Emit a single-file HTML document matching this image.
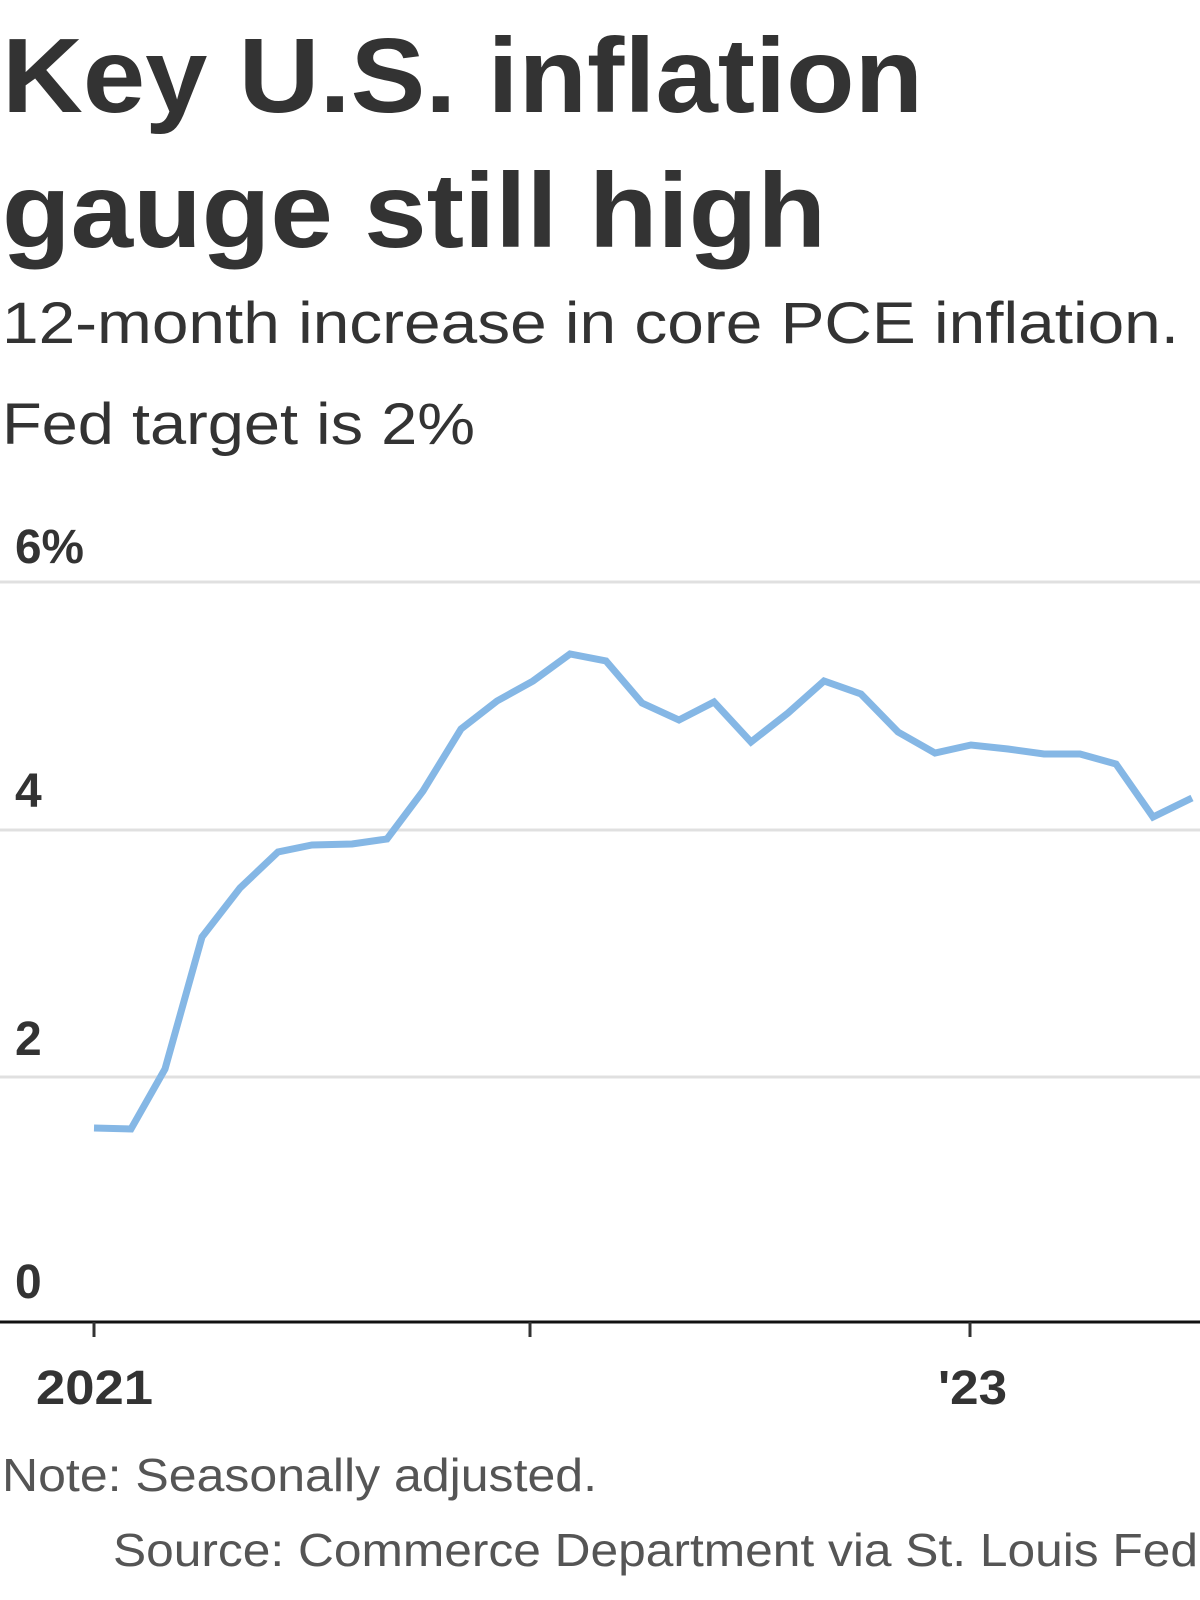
<!DOCTYPE html>
<html><head><meta charset="utf-8"><style>
html,body{margin:0;padding:0;background:#fff;}
svg{display:block;}
</style></head><body>
<svg width="1200" height="1600" viewBox="0 0 1200 1600" xmlns="http://www.w3.org/2000/svg" font-family="'Liberation Sans', sans-serif">
<text x="2" y="112" font-size="106" font-weight="bold" fill="#333" textLength="921" lengthAdjust="spacingAndGlyphs">Key U.S. inflation</text>
<text x="2" y="247" font-size="106" font-weight="bold" fill="#333" textLength="824" lengthAdjust="spacingAndGlyphs">gauge still high</text>
<text x="2" y="343" font-size="58" fill="#333" textLength="1177" lengthAdjust="spacingAndGlyphs">12-month increase in core PCE inflation.</text>
<text x="2" y="444" font-size="58" fill="#333" textLength="473" lengthAdjust="spacingAndGlyphs">Fed target is 2%</text>
<g stroke="#e0e0e0" stroke-width="3">
<line x1="0" y1="582" x2="1200" y2="582"/>
<line x1="0" y1="830" x2="1200" y2="830"/>
<line x1="0" y1="1077" x2="1200" y2="1077"/>
</g>
<g font-size="48" fill="#333" font-weight="bold">
<text x="15" y="563" textLength="69" lengthAdjust="spacingAndGlyphs">6%</text>
<text x="15" y="807">4</text>
<text x="15" y="1055">2</text>
<text x="15" y="1298">0</text>
</g>
<polyline fill="none" stroke="#85b7e5" stroke-width="7" stroke-linejoin="miter" points="94,1128 131,1129 165,1069 202,937 240,888 278,852 312,845 352,844 387,839 423,791 461,729 497,701 533,681 570,654 606,661 642,703 679,720 714,702 751,742 788,713 824,681 861,694 898,732 935,753 971,745 1008,749 1044,754 1080,754 1116,764 1153,817 1192,798"/>
<line x1="0" y1="1322" x2="1200" y2="1322" stroke="#111" stroke-width="3"/>
<g stroke="#333" stroke-width="3">
<line x1="94" y1="1322" x2="94" y2="1337"/>
<line x1="530" y1="1322" x2="530" y2="1337"/>
<line x1="970" y1="1322" x2="970" y2="1337"/>
</g>
<g font-size="48" fill="#333" font-weight="bold">
<text x="36" y="1404" textLength="117" lengthAdjust="spacingAndGlyphs">2021</text>
<text x="938" y="1404" textLength="69" lengthAdjust="spacingAndGlyphs">'23</text>
</g>
<text x="2" y="1491" font-size="46" fill="#555" textLength="595" lengthAdjust="spacingAndGlyphs">Note: Seasonally adjusted.</text>
<text x="113" y="1566" font-size="46" fill="#555" textLength="1085" lengthAdjust="spacingAndGlyphs">Source: Commerce Department via St. Louis Fed</text>
</svg>
</body></html>
